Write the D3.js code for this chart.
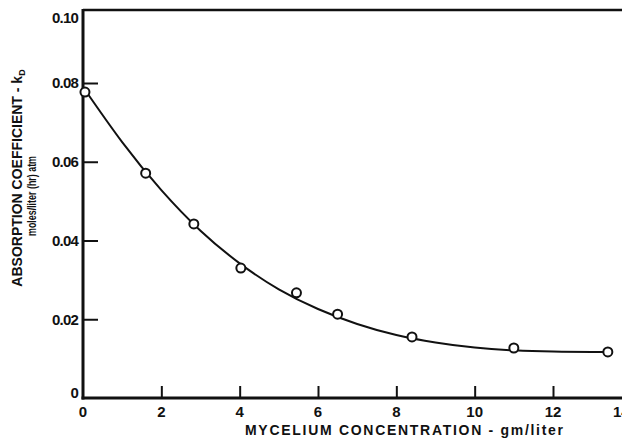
<!DOCTYPE html>
<html>
<head>
<meta charset="utf-8">
<script src="https://cdn.jsdelivr.net/npm/d3@7"></script>
<style>
  html, body { margin: 0; padding: 0; background: #fff; }
  svg { display: block; }
  text { font-family: "Liberation Sans", Arial, sans-serif; fill: #111; }
</style>
</head>
<body>
<svg id="chart" width="622" height="438"></svg>
<script>
// Measured mycelium concentration (gm/liter) and absorption coefficient kD
const concentration = [0.05, 1.6, 2.83, 4.03, 5.45, 6.5, 8.4, 11.0, 13.4];
const kD = [0.0777, 0.0571, 0.0442, 0.0330, 0.0267, 0.0213, 0.0155, 0.0127, 0.0117];

// Smooth fitted curve through the data
const fitX = [0, 1, 2, 3, 4, 5, 6, 7, 8, 9, 10, 11, 12, 13, 13.5];
const fitY = [0.0790, 0.0650, 0.0528, 0.0425, 0.0342, 0.0276, 0.0226, 0.0188, 0.0160, 0.0141, 0.0128, 0.0121, 0.0118, 0.0117, 0.0117];

// Tick values and labels
const xTicks = [0, 2, 4, 6, 8, 10, 12, 14];
const xTickLabels = ["0", "2", "4", "6", "8", "10", "12", "14"];
const yTicks = [0, 0.02, 0.04, 0.06, 0.08, 0.10];
const yTickLabels = ["0", "0.02", "0.04", "0.06", "0.08", "0.10"];

const svg = d3.select("#chart");
const plotLeft = 83, plotBottom = 398, plotTop = 10, plotRight = 622;

const x = d3.scaleLinear().domain([0, 12]).range([plotLeft, 553]);
const y = d3.scaleLinear().domain([0, 0.08]).range([plotBottom, 83]);

// Frame: top rule
svg.append("line")
  .attr("x1", plotLeft).attr("x2", plotRight)
  .attr("y1", plotTop).attr("y2", plotTop)
  .attr("stroke", "#111").attr("stroke-width", 2.5);

// Y axis (ticks point into the plot)
const yAxis = d3.axisRight(y)
  .tickValues(yTicks.filter(v => v > 0 && v < 0.1))
  .tickSize(15)
  .tickFormat("");
const gy = svg.append("g").attr("transform", `translate(${plotLeft},0)`).call(yAxis);
gy.select(".domain").remove();
gy.selectAll(".tick line").attr("stroke", "#111").attr("stroke-width", 2);

// X axis (ticks point upward)
const xAxis = d3.axisTop(x)
  .tickValues(xTicks.filter(v => v > 0 && v < 14))
  .tickSize(12)
  .tickFormat("");
const gx = svg.append("g").attr("transform", `translate(0,${plotBottom})`).call(xAxis);
gx.select(".domain").remove();
gx.selectAll(".tick line").attr("stroke", "#111").attr("stroke-width", 2);

// Axis lines
svg.append("line")
  .attr("x1", plotLeft).attr("x2", plotLeft)
  .attr("y1", plotTop - 1).attr("y2", plotBottom + 1.5)
  .attr("stroke", "#111").attr("stroke-width", 3);
svg.append("line")
  .attr("x1", plotLeft - 1.5).attr("x2", plotRight)
  .attr("y1", plotBottom).attr("y2", plotBottom)
  .attr("stroke", "#111").attr("stroke-width", 3);

// Y tick labels
svg.append("g").selectAll("text")
  .data(yTicks)
  .join("text")
  .attr("x", 78)
  .attr("y", d => d === 0.10 ? plotTop + 8 : (d === 0 ? y(d) - 5 : y(d)))
  .attr("dy", "0.35em")
  .attr("text-anchor", "end")
  .attr("font-size", 15)
  .attr("font-weight", "bold")
  .attr("letter-spacing", -0.8)
  .text((d, i) => yTickLabels[i]);

// X tick labels
svg.append("g").selectAll("text")
  .data(xTicks)
  .join("text")
  .attr("x", d => d === 14 ? x(d) - 10 : x(d))
  .attr("y", 412)
  .attr("dy", "0.35em")
  .attr("text-anchor", "middle")
  .attr("font-size", 15)
  .attr("font-weight", "bold")
  .text((d, i) => xTickLabels[i]);

// Fitted curve
const line = d3.line()
  .x((d, i) => x(fitX[i]))
  .y(d => y(d))
  .curve(d3.curveNatural);
svg.append("path")
  .datum(fitY)
  .attr("d", line)
  .attr("fill", "none")
  .attr("stroke", "#111")
  .attr("stroke-width", 2);

// Data points
svg.append("g").selectAll("circle")
  .data(kD)
  .join("circle")
  .attr("cx", (d, i) => x(concentration[i]))
  .attr("cy", d => y(d))
  .attr("r", 4.5)
  .attr("fill", "#fff")
  .attr("stroke", "#111")
  .attr("stroke-width", 2);

// X axis title
svg.append("text")
  .attr("x", 245)
  .attr("y", 435)
  .attr("font-size", 14)
  .attr("font-weight", "bold")
  .attr("textLength", 318)
  .attr("lengthAdjust", "spacing")
  .text("MYCELIUM CONCENTRATION - gm/liter");

// Y axis title (two lines, rotated)
const yt = svg.append("text")
  .attr("transform", "translate(22,178) rotate(-90)")
  .attr("text-anchor", "middle")
  .attr("font-size", 14)
  .attr("font-weight", "bold");
yt.append("tspan").text("ABSORPTION COEFFICIENT - k");
yt.append("tspan").attr("font-size", 9).attr("dy", 3).text("D");

svg.append("text")
  .attr("transform", "translate(36,196) rotate(-90)")
  .attr("text-anchor", "middle")
  .attr("font-size", 12.5)
  .attr("font-weight", "bold")
  .attr("textLength", 80)
  .attr("lengthAdjust", "spacingAndGlyphs")
  .text("moles/liter (hr) atm");
</script>
</body>
</html>
